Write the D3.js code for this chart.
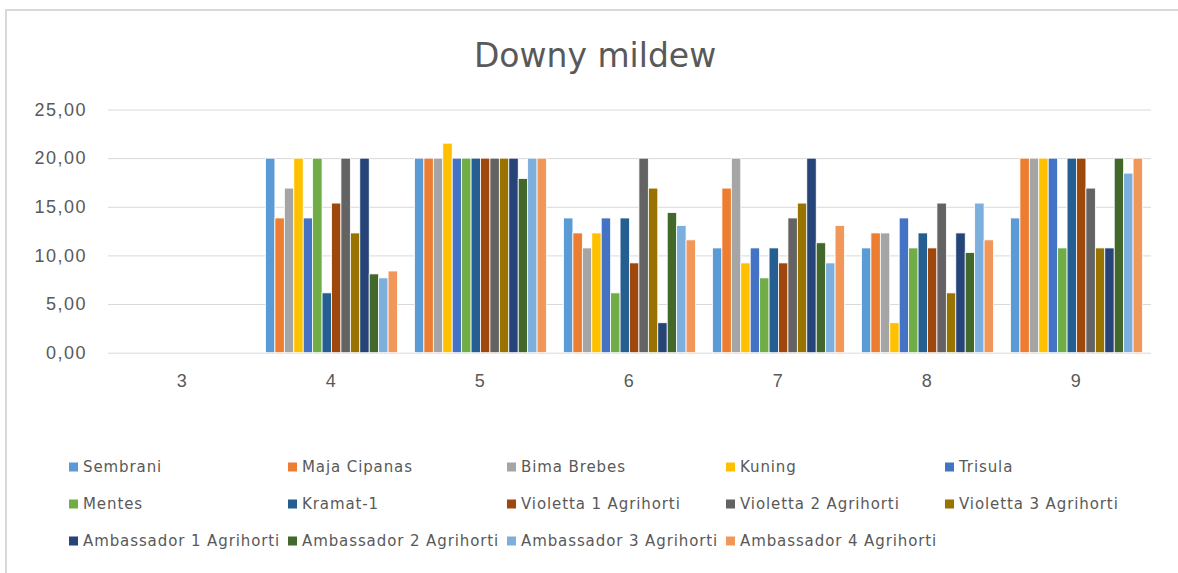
<!DOCTYPE html>
<html>
<head>
<meta charset="utf-8">
<script src="https://cdn.jsdelivr.net/npm/d3@7"></script>
<style>
  body { margin: 0; background: #fff; }
  svg { display: block; font-family: 'DejaVu Sans', sans-serif; }
  .tick-label { fill: #595959; font-size: 18px; letter-spacing: 1.5px; }
  .legend-text { fill: #595959; font-size: 15px; letter-spacing: 0.9px; }
  .chart-title { fill: #595959; font-size: 33px; }
</style>
</head>
<body>
<svg id="chart"></svg>
<script>
// weeks (x categories)
const categories = ['3', '4', '5', '6', '7', '8', '9'];

const seriesNames = [
  'Sembrani', 'Maja Cipanas', 'Bima Brebes', 'Kuning', 'Trisula',
  'Mentes', 'Kramat-1', 'Violetta 1 Agrihorti', 'Violetta 2 Agrihorti', 'Violetta 3 Agrihorti',
  'Ambassador 1 Agrihorti', 'Ambassador 2 Agrihorti', 'Ambassador 3 Agrihorti', 'Ambassador 4 Agrihorti'
];

// values per series, one per week (week 3 has no data)
const sembrani     = [0, 20.00, 20.00, 13.85, 10.77, 10.77, 13.85];
const majaCipanas  = [0, 13.85, 20.00, 12.31, 16.92, 12.31, 20.00];
const bimaBrebes   = [0, 16.92, 20.00, 10.77, 20.00, 12.31, 20.00];
const kuning       = [0, 20.00, 21.54, 12.31,  9.23,  3.08, 20.00];
const trisula      = [0, 13.85, 20.00, 13.85, 10.77, 13.85, 20.00];
const mentes       = [0, 20.00, 20.00,  6.15,  7.69, 10.77, 10.77];
const kramat1      = [0,  6.15, 20.00, 13.85, 10.77, 12.31, 20.00];
const violetta1    = [0, 15.38, 20.00,  9.23,  9.23, 10.77, 20.00];
const violetta2    = [0, 20.00, 20.00, 20.00, 13.85, 15.38, 16.92];
const violetta3    = [0, 12.31, 20.00, 16.92, 15.38,  6.15, 10.77];
const ambassador1  = [0, 20.00, 20.00,  3.08, 20.00, 12.31, 10.77];
const ambassador2  = [0,  8.10, 17.90, 14.40, 11.30, 10.30, 20.00];
const ambassador3  = [0,  7.69, 20.00, 13.08,  9.23, 15.38, 18.46];
const ambassador4  = [0,  8.40, 20.00, 11.60, 13.08, 11.60, 20.00];

const seriesValues = [
  sembrani, majaCipanas, bimaBrebes, kuning, trisula,
  mentes, kramat1, violetta1, violetta2, violetta3,
  ambassador1, ambassador2, ambassador3, ambassador4
];

const yTicks = [0, 5, 10, 15, 20, 25];

const colors = [
  '#5B9BD5', '#ED7D31', '#A5A5A5', '#FFC000', '#4472C4',
  '#70AD47', '#255E91', '#9E480E', '#636363', '#997300',
  '#264478', '#43682B', '#7CAFDD', '#F1975A'
];

class GroupedBarChart {

  constructor(_config) {
    this.config = {
      parentElement: _config.parentElement,
      containerWidth: _config.containerWidth || 1178,
      containerHeight: _config.containerHeight || 573,
      plot: { left: 108, right: 1151, top: 109.5, bottom: 352.7 }
    };
    this.initVis();
  }

  initVis() {
    let vis = this;
    const c = vis.config;

    vis.svg = d3.select(c.parentElement)
      .attr('width', c.containerWidth)
      .attr('height', c.containerHeight);

    // chart frame (only top and left edges are inside the picture)
    vis.svg.append('path')
      .attr('d', 'M6,573 V10 H1178')
      .attr('fill', 'none')
      .attr('stroke', '#d9d9d9')
      .attr('stroke-width', 2);

    vis.x0 = d3.scaleBand()
      .domain(categories)
      .range([c.plot.left, c.plot.right]);

    vis.x1 = d3.scaleBand()
      .domain(seriesNames)
      .range([0, vis.x0.bandwidth()])
      .paddingInner(0)
      .paddingOuter(0.9);

    vis.y = d3.scaleLinear()
      .domain([0, 25])
      .range([c.plot.bottom, c.plot.top]);

    vis.color = d3.scaleOrdinal().domain(seriesNames).range(colors);

    vis.render();
  }

  render() {
    let vis = this;
    const c = vis.config;

    // title
    vis.svg.append('text')
      .attr('class', 'chart-title')
      .attr('x', 595)
      .attr('y', 67)
      .attr('text-anchor', 'middle')
      .text('Downy mildew');

    // gridlines + y labels
    const yAxis = d3.axisLeft(vis.y)
      .tickValues(yTicks)
      .tickSize(-(c.plot.right - c.plot.left))
      .tickPadding(21)
      .tickFormat(d => d3.format('.2f')(d).replace('.', ','));

    const gy = vis.svg.append('g')
      .attr('transform', `translate(${c.plot.left},0)`)
      .call(yAxis);
    gy.select('.domain').remove();
    gy.selectAll('.tick line').attr('stroke', '#d9d9d9').attr('stroke-width', 1);
    gy.selectAll('.tick text')
      .attr('class', 'tick-label')
      .attr('font-family', null)
      .attr('font-size', null);

    // x labels
    const xAxis = d3.axisBottom(vis.x0).tickSize(0).tickPadding(22);
    const gx = vis.svg.append('g')
      .attr('transform', `translate(0,${c.plot.bottom})`)
      .call(xAxis);
    gx.select('.domain').remove();
    gx.selectAll('.tick text')
      .attr('class', 'tick-label')
      .attr('font-family', null)
      .attr('font-size', null);

    // bars
    const groups = vis.svg.append('g')
      .selectAll('.week')
      .data(categories)
      .join('g')
      .attr('class', 'week')
      .attr('transform', d => `translate(${vis.x0(d)},0)`);

    groups.selectAll('rect')
      .data((d, i) => seriesNames.map((s, j) => ({ series: s, value: seriesValues[j][i] })))
      .join('rect')
      .filter(d => d.value > 0)
      .attr('x', d => vis.x1(d.series))
      .attr('y', d => vis.y(d.value))
      .attr('width', vis.x1.bandwidth())
      .attr('height', d => vis.y(0) - vis.y(d.value))
      .attr('fill', d => vis.color(d.series))
      .attr('stroke', '#fff')
      .attr('stroke-width', 0.8);

    // legend: 5 columns x 3 rows
    const legendCols = 5;
    const legendX = d3.scaleLinear().domain([0, 1]).range([73.5, 292.5]);
    const legendY = d3.scaleLinear().domain([0, 1]).range([467, 504]);

    const legend = vis.svg.append('g')
      .selectAll('.legend-item')
      .data(seriesNames)
      .join('g')
      .attr('class', 'legend-item')
      .attr('transform', (d, i) =>
        `translate(${legendX(i % legendCols)},${legendY(Math.floor(i / legendCols))})`);

    legend.append('rect')
      .attr('x', -4.5)
      .attr('y', -4.5)
      .attr('width', 9)
      .attr('height', 9)
      .attr('fill', d => vis.color(d));

    legend.append('text')
      .attr('class', 'legend-text')
      .attr('x', 9.5)
      .attr('dy', '0.36em')
      .text(d => d);
  }
}

new GroupedBarChart({ parentElement: '#chart' });
</script>
</body>
</html>
